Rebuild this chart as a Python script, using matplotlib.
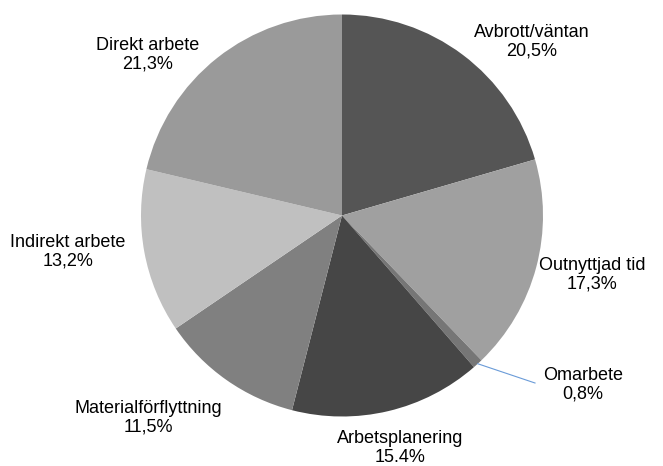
import matplotlib
matplotlib.use("Agg")
import matplotlib.pyplot as plt
import numpy as np

labels = ["Avbrott/väntan", "Outnyttjad tid", "Omarbete", "Arbetsplanering",
          "Materialförflyttning", "Indirekt arbete", "Direkt arbete"]
values = [20.5, 17.3, 0.8, 15.4, 11.5, 13.2, 21.3]
value_text = ["20,5%", "17,3%", "0,8%", "15.4%", "11,5%", "13,2%", "21,3%"]
colors = ["#555555", "#a0a0a0", "#767676", "#464646", "#808080", "#c0c0c0", "#9a9a9a"]

# label block centres in pixel coords (x, y from top) of the 663x466 canvas
label_px = [(532, 42), (592, 275), (583, 385), (400, 448), (148, 418), (68, 252), (148, 55)]

W, H = 663, 466
CX, CY, R = 342, 215.5, 201

plt.rcParams["font.family"] = ["Liberation Sans", "DejaVu Sans"]

fig = plt.figure(figsize=(W / 100, H / 100), dpi=100)
ax = fig.add_axes([0, 0, 1, 1])

ax.pie(values, colors=colors, startangle=90, counterclock=False, radius=1,
       wedgeprops=dict(linewidth=0), frame=True)
ax.set_xlim(-CX / R, (W - CX) / R)
ax.set_ylim(-(H - CY) / R, CY / R)
ax.set_aspect("auto")
ax.axis("off")


def to_data(px, py):
    return (px - CX) / R, (CY - py) / R


for lab, vt, (px, py) in zip(labels, value_text, label_px):
    x, y = to_data(px, py)
    ax.text(x, y, f"{lab}\n{vt}", ha="center", va="center", fontsize=13,
            linespacing=1.15, color="#000000")

# leader line for the small slice
cum = np.cumsum([0] + values)
i = labels.index("Omarbete")
mid = np.deg2rad(90 - 3.6 * (cum[i] + values[i] / 2))
x0, y0 = np.cos(mid), np.sin(mid)
x1, y1 = to_data(535, 383)
ax.plot([x0, x1], [y0, y1], color="#6a9bd8", linewidth=0.8)

fig.savefig("out.png", dpi=100)
